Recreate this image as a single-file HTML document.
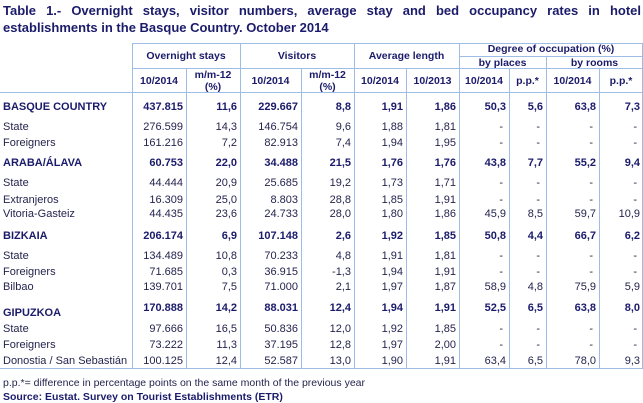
<!DOCTYPE html>
<html><head><meta charset="utf-8"><style>
body{margin:0;width:643px;height:403px;background:#fff;position:relative;overflow:hidden;font-family:"Liberation Sans",Tahoma,sans-serif;color:#24244e}
.t{position:absolute;left:3px;top:2px;width:638px;font-weight:bold;font-size:13px;line-height:17px;color:#1b1b6b;text-align:justify;text-align-last:left}
.l{position:absolute;background:#9dbde6}
.c{position:absolute;font-size:11px;line-height:12px;white-space:nowrap}
.b{font-weight:bold;color:#1b1b6b}
.h{font-weight:bold;color:#1b1b6b;text-align:center;font-size:10.5px;line-height:12px;position:absolute;white-space:nowrap}
.r{text-align:right}
</style></head><body>
<div class="t">Table 1.- Overnight stays, visitor numbers, average stay and bed occupancy rates in hotel establishments in the Basque Country. October 2014</div>
<div class="l" style="left:132px;top:43px;width:511px;height:1px"></div>
<div class="l" style="left:460px;top:56px;width:183px;height:1px"></div>
<div class="l" style="left:132px;top:68px;width:511px;height:1px"></div>
<div class="l" style="left:0;top:92px;width:643px;height:1px"></div>
<div class="l" style="left:0;top:368px;width:643px;height:1px"></div>
<div class="l" style="left:132px;top:43px;width:1px;height:326px"></div>
<div class="l" style="left:186px;top:68px;width:1px;height:301px"></div>
<div class="l" style="left:240px;top:43px;width:1px;height:326px"></div>
<div class="l" style="left:301px;top:68px;width:1px;height:301px"></div>
<div class="l" style="left:354px;top:43px;width:1px;height:326px"></div>
<div class="l" style="left:406px;top:68px;width:1px;height:301px"></div>
<div class="l" style="left:459px;top:43px;width:1px;height:326px"></div>
<div class="l" style="left:509px;top:68px;width:1px;height:301px"></div>
<div class="l" style="left:546px;top:56px;width:1px;height:313px"></div>
<div class="l" style="left:599px;top:68px;width:1px;height:301px"></div>
<div class="l" style="left:642px;top:43px;width:1px;height:326px"></div>
<div class="h" style="left:132px;top:50px;width:108px">Overnight stays</div>
<div class="h" style="left:240px;top:50px;width:114px">Visitors</div>
<div class="h" style="left:354px;top:50px;width:105px">Average length</div>
<div class="h" style="left:459px;top:43px;width:184px">Degree of occupation (%)</div>
<div class="h" style="left:459px;top:57px;width:87px">by places</div>
<div class="h" style="left:546px;top:57px;width:97px">by rooms</div>
<div class="h" style="left:132px;top:75px;width:54px">10/2014</div>
<div class="h" style="left:186px;top:69px;width:54px">m/m-12<br>(%)</div>
<div class="h" style="left:240px;top:75px;width:61px">10/2014</div>
<div class="h" style="left:301px;top:69px;width:53px">m/m-12<br>(%)</div>
<div class="h" style="left:354px;top:75px;width:52px">10/2014</div>
<div class="h" style="left:406px;top:75px;width:53px">10/2013</div>
<div class="h" style="left:459px;top:75px;width:50px">10/2014</div>
<div class="h" style="left:509px;top:75px;width:37px">p.p.*</div>
<div class="h" style="left:546px;top:75px;width:53px">10/2014</div>
<div class="h" style="left:599px;top:75px;width:44px">p.p.*</div>
<div id="rows"></div>
<div class="c" style="left:3px;top:377px;font-size:10.5px">p.p.*= difference in percentage points on the same month of the previous year</div>
<div class="c b" style="left:3px;top:391px;font-size:10.5px">Source: Eustat. Survey on Tourist Establishments (ETR)</div>
<script>
var rights=[183,237,298,351,403,456,506,543,596,640];
var data=[
[107,1,"BASQUE COUNTRY","437.815","11,6","229.667","8,8","1,91","1,86","50,3","5,6","63,8","7,3"],
[127,0,"State","276.599","14,3","146.754","9,6","1,88","1,81","-","-","-","-"],
[143,0,"Foreigners","161.216","7,2","82.913","7,4","1,94","1,95","-","-","-","-"],
[163,1,"ARABA/ÁLAVA","60.753","22,0","34.488","21,5","1,76","1,76","43,8","7,7","55,2","9,4"],
[183,0,"State","44.444","20,9","25.685","19,2","1,73","1,71","-","-","-","-"],
[200,0,"Extranjeros","16.309","25,0","8.803","28,8","1,85","1,91","-","-","-","-"],
[214,0,"Vitoria-Gasteiz","44.435","23,6","24.733","28,0","1,80","1,86","45,9","8,5","59,7","10,9"],
[236,1,"BIZKAIA","206.174","6,9","107.148","2,6","1,92","1,85","50,8","4,4","66,7","6,2"],
[256,0,"State","134.489","10,8","70.233","4,8","1,91","1,81","-","-","-","-"],
[272,0,"Foreigners","71.685","0,3","36.915","-1,3","1,94","1,91","-","-","-","-"],
[287,0,"Bilbao","139.701","7,5","71.000","2,1","1,97","1,87","58,9","4,8","75,9","5,9"],
[308,1,"GIPUZKOA","170.888","14,2","88.031","12,4","1,94","1,91","52,5","6,5","63,8","8,0"],
[329,0,"State","97.666","16,5","50.836","12,0","1,92","1,85","-","-","-","-"],
[345,0,"Foreigners","73.222","11,3","37.195","12,8","1,97","2,00","-","-","-","-"],
[361,0,"Donostia / San Sebastián","100.125","12,4","52.587","13,0","1,90","1,91","63,4","6,5","78,0","9,3"]];
var h="";
data.forEach(function(d){
 var y=d[0]-6, cls=d[1]?"c b":"c";
 var ly=(d[2]=="GIPUZKOA")?y+5:y;
 h+='<div class="'+cls+'" style="left:3px;top:'+ly+'px">'+d[2]+'</div>';
 for(var i=0;i<10;i++){
  var v=d[3+i], rr=rights[i]; if(v=="-") rr-=3;
  h+='<div class="'+cls+' r" style="right:'+(643-rr)+'px;top:'+y+'px">'+v+'</div>';
 }
});
document.getElementById("rows").innerHTML=h;
</script>
</body></html>
